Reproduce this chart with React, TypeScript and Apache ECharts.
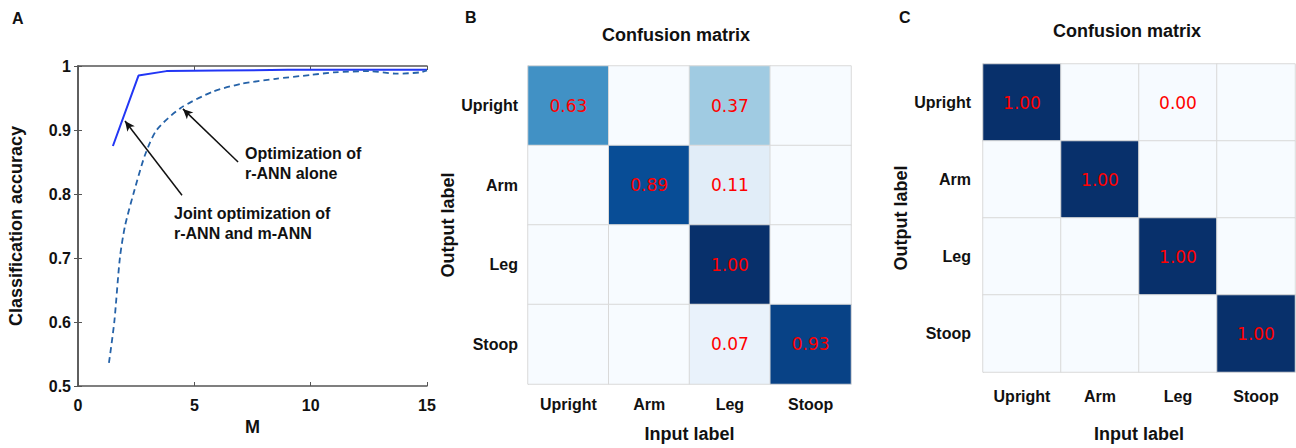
import React, { useEffect, useRef } from "react";
import * as echarts from "echarts";

// Panel A data
const solidM = [1.5, 2.6, 3.8, 6, 9, 12, 15];
const solidAcc = [0.875, 0.985, 0.992, 0.993, 0.994, 0.994, 0.994];
const dashedM = [1.33, 1.56, 1.8, 2.02, 2.38, 2.88, 3.38, 4.4, 5.8, 7, 8.5, 10, 11, 12.5, 13.7, 14.7, 15];
const dashedAcc = [0.536, 0.6, 0.7, 0.75, 0.8, 0.861, 0.9, 0.934, 0.96, 0.972, 0.98, 0.986, 0.99, 0.992, 0.988, 0.99, 0.993];

// Confusion matrices (rows = output label, cols = input label)
const classes = ["Upright", "Arm", "Leg", "Stoop"];
const matrixB = [
  [0.63, 0, 0.37, 0],
  [0, 0.89, 0.11, 0],
  [0, 0, 1.0, 0],
  [0, 0, 0.07, 0.93],
];
const matrixC = [
  [1.0, 0, 0.004, 0],
  [0, 1.0, 0, 0],
  [0, 0, 1.0, 0],
  [0, 0, 0, 1.0],
];

const blues = ["#f7fbff", "#deebf7", "#c6dbef", "#9ecae1", "#6baed6", "#4292c6", "#2171b5", "#08519c", "#08306b"];

const BOLD = "Liberation Sans";

function toHeat(m: number[][]) {
  const out: number[][] = [];
  m.forEach((row, r) => row.forEach((v, c) => out.push([c, r, v])));
  return out;
}

export default function App() {
  const ref = useRef<HTMLDivElement>(null);
  useEffect(() => {
    const chart = echarts.init(ref.current!, undefined, { renderer: "svg" });
    const axisTextA = { color: "#111", fontFamily: BOLD, fontWeight: "bold" as const, fontSize: 16 };
    const catLabel = { color: "#111", fontFamily: BOLD, fontWeight: "bold" as const, fontSize: 16 };
    const nameStyle = { color: "#111", fontFamily: BOLD, fontWeight: "bold" as const, fontSize: 18 };
    const boxLine = { show: true, lineStyle: { color: "#555", width: 1.5 } };
    const heatLabel = {
      show: true,
      color: "#ff0000",
      fontFamily: "DejaVu Sans",
      fontSize: 17,
      formatter: (p: any) => (p.value[2] > 0 ? p.value[2].toFixed(2) : ""),
    };
    const option: any = {
      animation: false,
      backgroundColor: "#ffffff",
      title: [
        { text: "Confusion matrix", left: 671, top: 21, textAlign: "center", textStyle: { ...nameStyle } },
        { text: "Confusion matrix", left: 1122, top: 17, textAlign: "center", textStyle: { ...nameStyle } },
      ],
      grid: [
        { left: 78, top: 66, width: 349, height: 320 },
        { left: 528, top: 66, width: 323, height: 320 },
        { left: 983, top: 64, width: 312, height: 310 },
      ],
      xAxis: [
        {
          gridIndex: 0, type: "value", min: 0, max: 15, interval: 5,
          axisLine: boxLine, axisTick: { show: true, inside: true, length: 4, lineStyle: { color: "#555" } },
          splitLine: { show: false }, axisLabel: { ...axisTextA, margin: 11 },
          name: "M", nameLocation: "middle", nameGap: 30, nameTextStyle: { ...nameStyle },
        },
        {
          gridIndex: 0, type: "value", min: 0, max: 15, interval: 5, position: "top",
          axisLine: boxLine, axisTick: { show: true, inside: true, length: 4, lineStyle: { color: "#555" } },
          splitLine: { show: false }, axisLabel: { show: false },
        },
        {
          gridIndex: 1, type: "category", data: classes,
          axisLine: { show: false }, axisTick: { show: false }, splitLine: { show: false },
          axisLabel: { ...catLabel, margin: 12 },
          name: "Input label", nameLocation: "middle", nameGap: 41, nameTextStyle: { ...nameStyle },
        },
        {
          gridIndex: 2, type: "category", data: classes,
          axisLine: { show: false }, axisTick: { show: false }, splitLine: { show: false },
          axisLabel: { ...catLabel, margin: 16 },
          name: "Input label", nameLocation: "middle", nameGap: 53, nameTextStyle: { ...nameStyle },
        },
      ],
      yAxis: [
        {
          gridIndex: 0, type: "value", min: 0.5, max: 1, interval: 0.1,
          axisLine: boxLine, axisTick: { show: true, inside: true, length: 4, lineStyle: { color: "#555" } },
          splitLine: { show: false }, axisLabel: { ...axisTextA, margin: 7 },
          name: "Classification accuracy", nameLocation: "middle", nameGap: 53, nameRotate: 90,
          nameTextStyle: { ...nameStyle },
        },
        {
          gridIndex: 0, type: "value", min: 0.5, max: 1, interval: 0.1, position: "right",
          axisLine: boxLine, axisTick: { show: true, inside: true, length: 4, lineStyle: { color: "#555" } },
          splitLine: { show: false }, axisLabel: { show: false },
        },
        {
          gridIndex: 1, type: "category", data: classes, inverse: true,
          axisLine: { show: true, lineStyle: { color: "#999", width: 1 } }, axisTick: { show: false },
          splitLine: { show: false }, axisLabel: { ...catLabel, margin: 10 },
          name: "Output label", nameLocation: "middle", nameGap: 62, nameRotate: 90, nameTextStyle: { ...nameStyle },
        },
        {
          gridIndex: 2, type: "category", data: classes, inverse: true,
          axisLine: { show: true, lineStyle: { color: "#999", width: 1 } }, axisTick: { show: false },
          splitLine: { show: false }, axisLabel: { ...catLabel, margin: 12 },
          name: "Output label", nameLocation: "middle", nameGap: 69, nameRotate: 90, nameTextStyle: { ...nameStyle },
        },
      ],
      visualMap: {
        type: "continuous", show: false, min: 0, max: 1, seriesIndex: [2, 3],
        inRange: { color: blues },
      },
      series: [
        {
          type: "line", xAxisIndex: 0, yAxisIndex: 0, showSymbol: false,
          data: solidM.map((m, i) => [m, solidAcc[i]]),
          lineStyle: { color: "#2236f5", width: 2 },
        },
        {
          type: "line", xAxisIndex: 0, yAxisIndex: 0, showSymbol: false, smooth: 0.25,
          data: dashedM.map((m, i) => [m, dashedAcc[i]]),
          lineStyle: { color: "#2562a8", width: 1.8, type: [6, 4] },
          markLine: {
            silent: true, symbol: ["none", "arrow"], symbolSize: [7, 10],
            label: { show: false },
            lineStyle: { color: "#111", width: 1.5, type: "solid" },
            data: [
              [{ coord: [4.47, 0.798] }, { coord: [2.02, 0.914] }],
              [{ coord: [6.88, 0.85] }, { coord: [4.51, 0.933] }],
            ],
          },
        },
        {
          type: "heatmap", xAxisIndex: 2, yAxisIndex: 2, data: toHeat(matrixB),
          itemStyle: { borderColor: "#d9d9d9", borderWidth: 1 }, label: heatLabel,
        },
        {
          type: "heatmap", xAxisIndex: 3, yAxisIndex: 3, data: toHeat(matrixC),
          itemStyle: { borderColor: "#d9d9d9", borderWidth: 1 }, label: heatLabel,
        },
      ],
      graphic: [
        { type: "text", left: 12, top: 10, style: { text: "A", font: `bold 16px ${BOLD}`, fill: "#111" } },
        { type: "text", left: 465, top: 9, style: { text: "B", font: `bold 16px ${BOLD}`, fill: "#111" } },
        { type: "text", left: 899, top: 9, style: { text: "C", font: `bold 16px ${BOLD}`, fill: "#111" } },
        { type: "text", x: 245, y: 153, style: { text: "Optimization of", font: `bold 16px ${BOLD}`, fill: "#111", verticalAlign: "middle" } },
        { type: "text", x: 245, y: 173, style: { text: "r-ANN alone", font: `bold 16px ${BOLD}`, fill: "#111", verticalAlign: "middle" } },
        { type: "text", x: 174, y: 213, style: { text: "Joint optimization of", font: `bold 16px ${BOLD}`, fill: "#111", verticalAlign: "middle" } },
        { type: "text", x: 174, y: 233, style: { text: "r-ANN and m-ANN", font: `bold 16px ${BOLD}`, fill: "#111", verticalAlign: "middle" } },
      ],
    };
    chart.setOption(option);
    return () => chart.dispose();
  }, []);
  return <div ref={ref} style={{ position: "fixed", left: 0, top: 0, width: 1296, height: 448 }} />;
}
